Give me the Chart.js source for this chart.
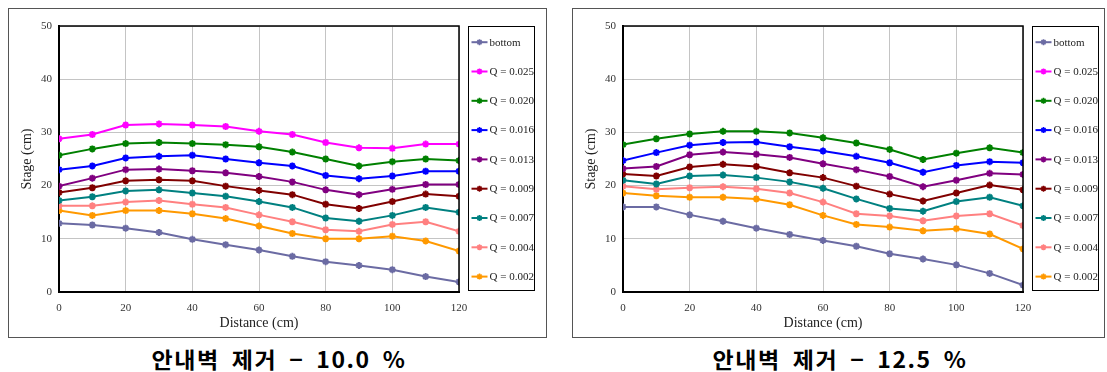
<!DOCTYPE html>
<html>
<head>
<meta charset="utf-8">
<script src="https://cdn.jsdelivr.net/npm/chart.js@4/dist/chart.umd.min.js"></script>
<style>
  html, body { margin: 0; padding: 0; background: #fff; }
  body { width: 1107px; height: 372px; position: relative; overflow: hidden; }
  .panel { position: absolute; border: 1px solid #555; background: #fff; box-sizing: border-box; }
  .panel canvas { display: block; }
  .caption {
    position: absolute; top: 343px; height: 30px; line-height: 30px;
    text-align: center; color: #000; white-space: pre;
  }
  .caption span {
    display: inline-block;
    font-family: "Noto Sans CJK KR", sans-serif; font-weight: 700; font-size: 22px;
    letter-spacing: 1.5px; word-spacing: 5px;
    transform-origin: center center;
  }
</style>
</head>
<body>
<div class="panel" id="p1" style="left:8px; top:8px; width:539px; height:330px;"><canvas id="c1"></canvas></div>
<div class="panel" id="p2" style="left:572px; top:8px; width:533px; height:330px;"><canvas id="c2"></canvas></div>
<div class="caption" style="left:79px; width:400px;"><span>안내벽 제거 − 10.0 %</span></div>
<div class="caption" style="left:640px; width:400px;"><span>안내벽 제거 − 12.5 %</span></div>

<script>
// Measuring stations along the channel (cm)
const distance = [0, 10, 20, 30, 40, 50, 60, 70, 80, 90, 100, 110, 120];
const xTicks = [0, 20, 40, 60, 80, 100, 120];
const yTicks = [0, 10, 20, 30, 40, 50];

const seriesLabels = ['bottom', 'Q = 0.025', 'Q = 0.020', 'Q = 0.016', 'Q = 0.013',
                      'Q = 0.009', 'Q = 0.007', 'Q = 0.004', 'Q = 0.002'];
const seriesColors = ['#6B6BA3', '#FF00FF', '#008000', '#0000FF', '#800080',
                      '#800000', '#008080', '#FF8080', '#FF9900'];

// Guide wall removed, 10.0 %
const w100_bottom = [12.9, 12.6, 12.0, 11.2, 9.9, 8.9, 7.9, 6.7, 5.7, 5.0, 4.2, 2.9, 1.9];
const w100_q025   = [28.8, 29.6, 31.4, 31.6, 31.4, 31.1, 30.2, 29.6, 28.1, 27.1, 27.0, 27.8, 27.8];
const w100_q020   = [25.7, 26.9, 27.9, 28.1, 27.9, 27.7, 27.3, 26.3, 25.0, 23.7, 24.5, 25.0, 24.7];
const w100_q016   = [23.0, 23.7, 25.2, 25.5, 25.7, 25.0, 24.3, 23.7, 21.9, 21.3, 21.8, 22.7, 22.7];
const w100_q013   = [19.9, 21.4, 23.0, 23.1, 22.8, 22.4, 21.7, 20.7, 19.2, 18.3, 19.3, 20.2, 20.2];
const w100_q009   = [18.7, 19.6, 20.9, 21.1, 20.9, 19.9, 19.1, 18.3, 16.5, 15.7, 17.0, 18.4, 18.0];
const w100_q007   = [17.2, 17.9, 19.0, 19.2, 18.6, 18.0, 17.0, 15.9, 13.9, 13.3, 14.4, 15.9, 15.0];
const w100_q004   = [16.2, 16.2, 16.9, 17.2, 16.5, 15.9, 14.5, 13.2, 11.7, 11.4, 12.7, 13.2, 11.4];
const w100_q002   = [15.3, 14.4, 15.3, 15.3, 14.7, 13.8, 12.4, 11.0, 10.0, 10.0, 10.5, 9.6, 7.7];

// Guide wall removed, 12.5 % (no run at Q = 0.025)
const w125_bottom = [16.0, 16.0, 14.5, 13.3, 12.0, 10.8, 9.7, 8.6, 7.2, 6.2, 5.1, 3.5, 1.3];
const w125_q025   = [];
const w125_q020   = [27.7, 28.8, 29.7, 30.2, 30.2, 29.9, 29.0, 28.0, 26.8, 24.9, 26.1, 27.1, 26.2];
const w125_q016   = [24.7, 26.2, 27.6, 28.1, 28.2, 27.3, 26.5, 25.5, 24.3, 22.5, 23.8, 24.5, 24.3];
const w125_q013   = [23.2, 23.6, 25.8, 26.3, 25.9, 25.3, 24.1, 23.0, 21.7, 19.8, 21.0, 22.3, 22.1];
const w125_q009   = [22.2, 21.8, 23.5, 24.0, 23.6, 22.4, 21.5, 19.9, 18.4, 17.1, 18.6, 20.1, 19.2];
const w125_q007   = [21.0, 20.3, 21.8, 22.0, 21.5, 20.7, 19.5, 17.5, 15.7, 15.2, 17.0, 17.8, 16.2];
const w125_q004   = [19.9, 19.3, 19.6, 19.8, 19.4, 18.6, 16.9, 14.7, 14.3, 13.4, 14.3, 14.7, 12.5];
const w125_q002   = [18.6, 18.1, 17.8, 17.8, 17.5, 16.4, 14.4, 12.7, 12.2, 11.5, 11.9, 10.9, 8.1];

const SERIF = '"Liberation Serif", "Times New Roman", serif';
Chart.defaults.font.family = SERIF;
Chart.defaults.color = '#333';

function buildDatasets(seriesList) {
  return seriesList.map((vals, i) => ({
    label: seriesLabels[i],
    data: vals.map((v, k) => ({ x: distance[k], y: v })),
    borderColor: seriesColors[i],
    backgroundColor: seriesColors[i],
    borderWidth: 2,
    pointStyle: 'star',
    pointRadius: 3.5,
    pointBorderWidth: 2,
    pointHoverRadius: 3.5,
    tension: 0
  }));
}

// Boxed legend to the right of the plot, plus a frame around the plot area
const boxedLegend = {
  id: 'boxedLegend',
  afterDraw(chart) {
    const ctx = chart.ctx;
    const a = chart.chartArea;
    ctx.save();
    // plot frame (top and right edges)
    ctx.strokeStyle = '#000';
    ctx.lineWidth = 1.5;
    ctx.beginPath();
    ctx.moveTo(a.left, a.top);
    ctx.lineTo(a.right, a.top);
    ctx.lineTo(a.right, a.bottom);
    ctx.stroke();

    const bx = a.right + 9.5, by = a.top + 0.5, bw = 66, bh = a.bottom - a.top - 2;
    ctx.lineWidth = 1;
    ctx.strokeRect(bx, by, bw, bh);
    const step = 29.3;
    ctx.font = '11px ' + SERIF;
    ctx.textBaseline = 'middle';
    ctx.textAlign = 'left';
    chart.data.datasets.forEach((ds, i) => {
      const y = by + 15.7 + i * step;
      ctx.strokeStyle = ds.borderColor;
      ctx.lineWidth = 2;
      ctx.beginPath();
      ctx.moveTo(bx + 3, y);
      ctx.lineTo(bx + 19, y);
      ctx.stroke();
      // star marker
      ctx.lineWidth = 1.6;
      const r = 3;
      ctx.beginPath();
      ctx.moveTo(bx + 11 - r, y); ctx.lineTo(bx + 11 + r, y);
      ctx.moveTo(bx + 11, y - r); ctx.lineTo(bx + 11, y + r);
      ctx.moveTo(bx + 11 - r * 0.7, y - r * 0.7); ctx.lineTo(bx + 11 + r * 0.7, y + r * 0.7);
      ctx.moveTo(bx + 11 - r * 0.7, y + r * 0.7); ctx.lineTo(bx + 11 + r * 0.7, y - r * 0.7);
      ctx.stroke();
      ctx.fillStyle = '#222';
      ctx.fillText(ds.label, bx + 21, y + 0.5);
    });
    ctx.restore();
  }
};

function makeChart(canvasId, seriesList, rightPad) {
  return new Chart(document.getElementById(canvasId), {
    type: 'line',
    data: { datasets: buildDatasets(seriesList) },
    plugins: [boxedLegend],
    options: {
      responsive: true,
      maintainAspectRatio: false,
      animation: false,
      events: [],
      layout: { padding: { top: 17, right: rightPad, left: 0, bottom: 0 } },
      plugins: { legend: { display: false }, tooltip: { enabled: false } },
      scales: {
        x: {
          type: 'linear',
          min: 0, max: 120,
          afterBuildTicks(scale) { scale.ticks = xTicks.map(v => ({ value: v })); },
          afterFit(scale) { scale.height = 45; },
          grid: { color: '#c4c4c4', lineWidth: 1, drawTicks: false },
          border: { color: '#000', width: 2 },
          ticks: { font: { size: 11 }, padding: 10, color: '#333' },
          title: { display: true, text: 'Distance (cm)', font: { size: 14 }, color: '#222',
                   padding: { top: 2, bottom: 5 } }
        },
        y: {
          min: 0, max: 50,
          afterBuildTicks(scale) { scale.ticks = yTicks.map(v => ({ value: v })); },
          afterFit(scale) { scale.width = 50; },
          grid: { color: '#c4c4c4', lineWidth: 1, drawTicks: false },
          border: { color: '#000', width: 2 },
          ticks: { font: { size: 11 }, padding: 7, color: '#333' },
          title: { display: true, text: 'Stage (cm)', font: { size: 14 }, color: '#222',
                   padding: { top: 10, bottom: 0 } }
        }
      }
    }
  });
}

makeChart('c1',
  [w100_bottom, w100_q025, w100_q020, w100_q016, w100_q013, w100_q009, w100_q007, w100_q004, w100_q002],
  87);
makeChart('c2',
  [w125_bottom, w125_q025, w125_q020, w125_q016, w125_q013, w125_q009, w125_q007, w125_q004, w125_q002],
  81);

// Stretch each caption to its set width
document.querySelectorAll('.caption span').forEach(s => {
  const w = s.getBoundingClientRect().width;
  s.style.transform = 'scaleX(' + (255 / w).toFixed(3) + ')';
});
</script>
</body>
</html>
